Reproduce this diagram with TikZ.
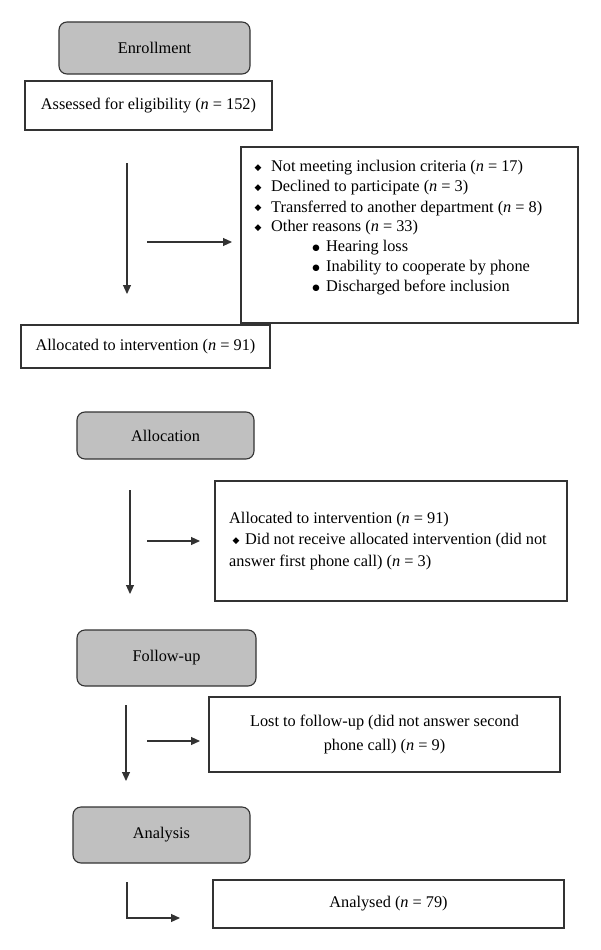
\documentclass[tikz,border=0pt]{standalone}
\usepackage{fontspec}
\setmainfont{Liberation Serif}
\newfontfamily\symfont{DejaVu Sans}
\usetikzlibrary{arrows.meta}
\definecolor{linec}{RGB}{51,51,51}
\definecolor{stagefill}{RGB}{192,192,192}
\newcommand{\dia}{{\symfont\fontsize{9}{9}\selectfont ◆}}
\newcommand{\dotb}{{\symfont\fontsize{8.5}{8.5}\selectfont ●}}
\begin{document}
\begin{tikzpicture}[x=1pt,y=-1pt,
  every node/.style={font=\fontsize{16.3}{24}\selectfont, text=black},
  stage/.style={draw=linec, line width=1.1pt, fill=stagefill, rounded corners=8pt, inner sep=0pt, outer sep=0pt},
  infobox/.style={draw=linec, line width=1.1pt, fill=white, inner sep=0pt, outer sep=0pt},
  txt/.style={inner sep=0pt, anchor=west},
  bul/.style={inner sep=0pt},
  arr/.style={draw=linec, line width=1.1pt, -{Triangle[length=9pt,width=8pt]}}
]
\useasboundingbox (0,0) rectangle (600,950);
\fill[white] (0,0) rectangle (600,950);

% Enrollment
\node[stage, minimum width=191pt, minimum height=52pt] (enr) at (154.5,48) {Enrollment};
\node[infobox, minimum width=247pt, minimum height=49pt] (ass) at (148.5,105.5) {Assessed for eligibility (\textit{n} = 152)};
\node[infobox, minimum width=337pt, minimum height=176pt] (excl) at (409.5,235) {};
\node[bul] (d1) at (258,168) {\dia};
\node[bul] (d2) at (258,188) {\dia};
\node[bul] (d3) at (258,208) {\dia};
\node[bul] (d4) at (258,228) {\dia};
\node[txt] (t1) at (271,168) {Not meeting inclusion criteria (\textit{n} = 17)};
\node[txt] (t2) at (271,188) {Declined to participate (\textit{n} = 3)};
\node[txt] (t3) at (271,208) {Transferred to another department (\textit{n} = 8)};
\node[txt] (t4) at (271,228) {Other reasons (\textit{n} = 33)};
\node[bul] (b1) at (316,248) {\dotb};
\node[bul] (b2) at (316,268) {\dotb};
\node[bul] (b3) at (316,288) {\dotb};
\node[txt] (s1) at (326,248) {Hearing loss};
\node[txt] (s2) at (326,268) {Inability to cooperate by phone};
\node[txt] (s3) at (326,288) {Discharged before inclusion};
\node[infobox, minimum width=249pt, minimum height=43pt] (alloc1) at (145.5,346.5) {Allocated to intervention (\textit{n} = 91)};

\coordinate (v1a) at (127,163);
\coordinate (v1b) at (127,294);
\coordinate (h1a) at (147,242);
\coordinate (h1b) at (232,242);
\draw[arr] (v1a) -- (v1b);
\draw[arr] (h1a) -- (h1b);

% Allocation
\node[stage, minimum width=177pt, minimum height=47pt] (allo) at (165.5,435.5) {Allocation};
\node[infobox, minimum width=352pt, minimum height=120pt] (abox) at (391,541) {};
\node[txt] (a1) at (229,520) {Allocated to intervention (\textit{n} = 91)};
\node[bul] (ad) at (236,541) {\dia};
\node[txt] (a2) at (245,541) {Did not receive allocated intervention (did not};
\node[txt] (a3) at (229,562) {answer first phone call) (\textit{n} = 3)};
\coordinate (v2a) at (130,490);
\coordinate (v2b) at (130,594);
\coordinate (h2a) at (147,541);
\coordinate (h2b) at (200,541);
\draw[arr] (v2a) -- (v2b);
\draw[arr] (h2a) -- (h2b);

% Follow-up
\node[stage, minimum width=179pt, minimum height=56pt] (fol) at (166.5,658) {Follow-up};
\node[infobox, minimum width=351pt, minimum height=75pt, align=center] (lost) at (384.5,734.5) {Lost to follow-up (did not answer second\\phone call) (\textit{n} = 9)};
\coordinate (v3a) at (126,705);
\coordinate (v3b) at (126,781);
\coordinate (h3a) at (147,741);
\coordinate (h3b) at (200,741);
\draw[arr] (v3a) -- (v3b);
\draw[arr] (h3a) -- (h3b);

% Analysis
\node[stage, minimum width=177pt, minimum height=56pt] (ana) at (161.5,835) {Analysis};
\node[infobox, minimum width=351pt, minimum height=48pt] (anad) at (388.5,904) {Analysed (\textit{n} = 79)};
\coordinate (e1) at (127,882);
\coordinate (e2) at (127,918);
\coordinate (e3) at (180,918);
\draw[arr] (e1) -- (e2) -- (e3);
\end{tikzpicture}
\end{document}
